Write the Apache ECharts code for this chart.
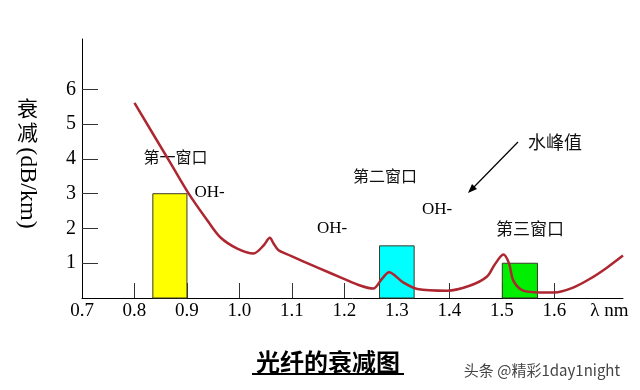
<!DOCTYPE html>
<html>
<head>
<meta charset="utf-8">
<script src="https://cdn.jsdelivr.net/npm/echarts@6/dist/echarts.min.js"></script>
<style>html,body{margin:0;padding:0;background:#fff}#c{width:640px;height:390px}</style>
</head>
<body>
<div id="c"></div>
<script>
// ---- data ----
const curveX = [0.800,0.869,0.903,0.939,0.964,0.996,1.027,1.046,1.058,1.065,1.074,1.097,1.148,1.198,1.230,1.255,1.272,1.285,1.312,1.339,1.396,1.440,1.472,1.486,1.503,1.514,1.522,1.541,1.573,1.600,1.636,1.669,1.701,1.731];
const curveY = [5.61,3.87,3.01,2.23,1.74,1.42,1.28,1.51,1.73,1.57,1.38,1.22,0.88,0.56,0.36,0.27,0.56,0.74,0.45,0.26,0.21,0.36,0.62,0.95,1.25,0.99,0.50,0.21,0.16,0.16,0.30,0.56,0.88,1.22];
const windowStart = [0.835, 1.267, 1.501];
const windowEnd   = [0.900, 1.333, 1.568];
const windowValue = [3.0, 1.5, 1.0];
const xTickLabels = [0.7,0.8,0.9,1.0,1.1,1.2,1.3,1.4,1.5,1.6];
const xTicks = [0.8,0.9,1.0,1.1,1.2,1.3,1.4,1.5,1.6];
const yTicks = [1,2,3,4,5,6];
const xUnitLabel = 'λ nm';
const yName = ['衰','减','(dB/km)'];
const titleText = '光纤的衰减图';
const watermark = '头条 @精彩1day1night';

// ---- styles ----
const windowColors = ['#ffff00', '#00ffff', '#00ee00'];
const serif = '"Liberation Serif", "DejaVu Serif", serif';
const cjk = '"Noto Sans CJK SC", sans-serif';

const chart = echarts.init(document.getElementById('c'), null, {renderer: 'canvas'});
const curveData = curveX.map((x, i) => [x, curveY[i]]);
const windowData = windowStart.map((s, i) => [s, windowEnd[i], windowValue[i]]);
const unitPos = 1.705;

chart.setOption({
  animation: false,
  backgroundColor: '#fff',
  grid: {left: 82, right: 17, top: 39, bottom: 92},
  xAxis: {
    type: 'value', min: 0.7, max: 1.731,
    axisLine: {show: true, onZero: false, lineStyle: {color: '#000', width: 1}},
    axisTick: {show: true, inside: true, length: 15, customValues: xTicks, lineStyle: {color: '#333', width: 1}},
    axisLabel: {
      customValues: xTickLabels.concat([unitPos]), margin: 4,
      color: '#000', fontFamily: serif, fontSize: 19,
      formatter: v => (Math.abs(v - unitPos) < 1e-6 ? xUnitLabel : v.toFixed(1))
    },
    splitLine: {show: false}
  },
  yAxis: {
    type: 'value', min: 0, max: 7.45,
    axisLine: {show: true, lineStyle: {color: '#000', width: 1}},
    axisTick: {show: true, inside: true, length: 16, customValues: yTicks, lineStyle: {color: '#333', width: 1}},
    axisLabel: {customValues: yTicks, margin: 6, color: '#000', fontFamily: serif, fontSize: 20},
    splitLine: {show: false}
  },
  series: [
    {
      type: 'custom', z: 2,
      data: windowData,
      encode: {x: [0, 1], y: 2},
      renderItem: function (params, api) {
        const p0 = api.coord([api.value(0), api.value(2)]);
        const p1 = api.coord([api.value(1), 0]);
        return {
          type: 'rect',
          shape: {x: p0[0], y: p0[1], width: p1[0] - p0[0], height: p1[1] - p0[1]},
          style: {fill: windowColors[params.dataIndex], stroke: '#3a3a2a', lineWidth: 1}
        };
      }
    },
    {
      type: 'line', z: 3, data: curveData, smooth: 0.3,
      showSymbol: false, symbol: 'none',
      lineStyle: {color: '#ad2630', width: 2.5}
    }
  ],
  graphic: [
    {type: 'text', x: 27.5, y: 108, style: {text: yName[0], font: '21px ' + cjk, fill: '#000', align: 'center', verticalAlign: 'middle'}},
    {type: 'text', x: 27.5, y: 132, style: {text: yName[1], font: '21px ' + cjk, fill: '#000', align: 'center', verticalAlign: 'middle'}},
    {type: 'text', x: 27.5, y: 188, rotation: -Math.PI / 2, style: {text: yName[2], font: '24px ' + serif, fill: '#000', align: 'center', verticalAlign: 'middle'}},
    {type: 'text', x: 175.5, y: 157, style: {text: '第一窗口', font: '16px ' + cjk, fill: '#111', align: 'center', verticalAlign: 'middle'}},
    {type: 'text', x: 385, y: 176, style: {text: '第二窗口', font: '16px ' + cjk, fill: '#111', align: 'center', verticalAlign: 'middle'}},
    {type: 'text', x: 530, y: 229, style: {text: '第三窗口', font: '17px ' + cjk, fill: '#111', align: 'center', verticalAlign: 'middle'}},
    {type: 'text', x: 555, y: 142, style: {text: '水峰值', font: '18px ' + cjk, fill: '#111', align: 'center', verticalAlign: 'middle'}},
    {type: 'text', x: 209.5, y: 193, style: {text: 'OH-', font: '17px ' + serif, fill: '#000', align: 'center', verticalAlign: 'middle'}},
    {type: 'text', x: 332, y: 229, style: {text: 'OH-', font: '17px ' + serif, fill: '#000', align: 'center', verticalAlign: 'middle'}},
    {type: 'text', x: 437, y: 210, style: {text: 'OH-', font: '17px ' + serif, fill: '#000', align: 'center', verticalAlign: 'middle'}},
    {type: 'line', shape: {x1: 518, y1: 142, x2: 472, y2: 189}, style: {stroke: '#000', lineWidth: 1.2}},
    {type: 'polygon', shape: {points: [[468, 193], [477, 189], [472, 184]]}, style: {fill: '#000'}},
    {type: 'text', x: 328, y: 362, style: {text: titleText, font: 'bold 24px ' + cjk, fill: '#000', align: 'center', verticalAlign: 'middle'}},
    {type: 'rect', shape: {x: 252, y: 373, width: 152, height: 2}, style: {fill: '#000'}},
    {type: 'text', x: 542, y: 370, style: {text: watermark, font: '15px ' + cjk, fill: '#444', align: 'center', verticalAlign: 'middle'}}
  ]
});
</script>
</body>
</html>
